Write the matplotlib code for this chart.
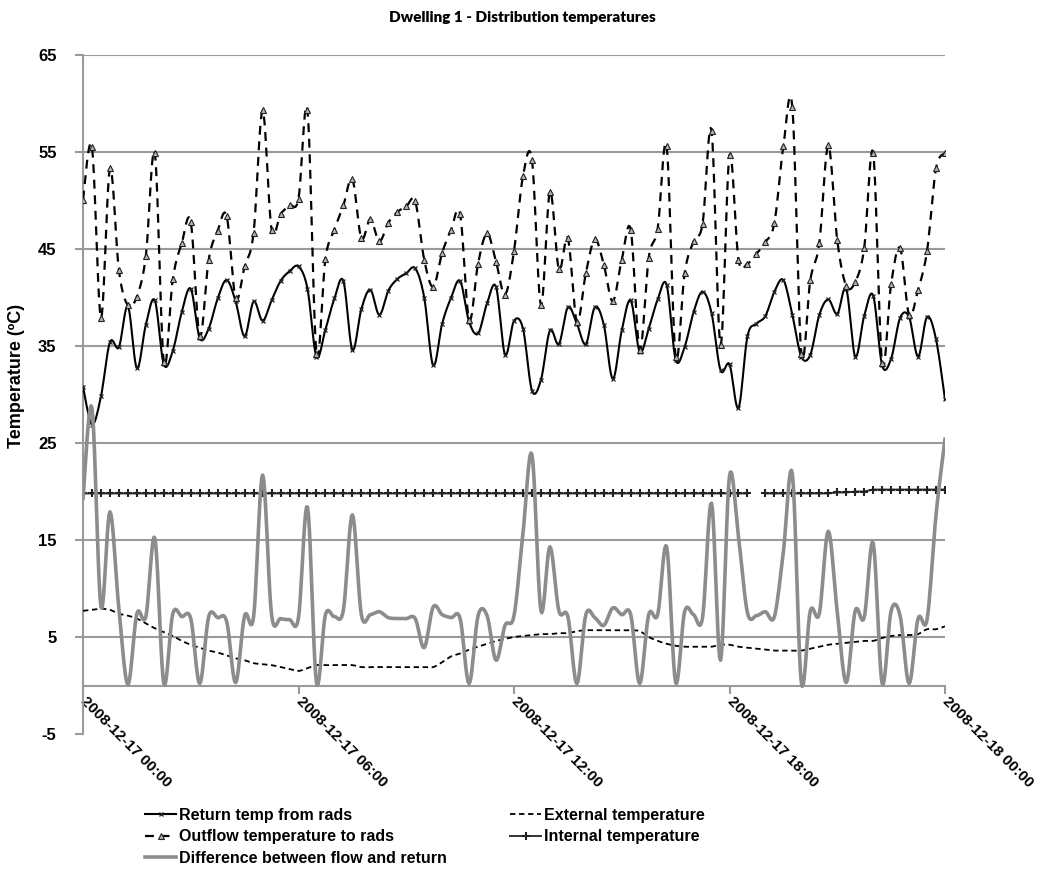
import numpy as np
import pandas as pd
import matplotlib
matplotlib.use("Agg")
import matplotlib.pyplot as plt
import matplotlib.dates as mdates

# 15 minute readings, 2008-12-17 00:00 .. 2008-12-18 00:00
times = pd.date_range("2008-12-17 00:00", "2008-12-18 00:00", freq="15min")

return_temp = [
    30.8, 26.9, 29.8, 35.4, 34.9, 39.1, 32.7, 37.2, 39.7, 33.1,
    34.5, 38.5, 40.9, 35.8, 36.8, 39.9, 41.8, 39.6, 36.0, 39.6,
    37.6, 39.7, 41.7, 42.7, 43.2, 40.9, 33.9, 36.7, 39.9, 41.7,
    34.6, 38.8, 40.8, 38.2, 40.7, 41.9, 42.5, 43.0, 40.0, 33.0,
    37.3, 40.0, 41.7, 37.5, 36.3, 39.4, 41.1, 34.1, 37.6, 36.8,
    30.4, 31.5, 36.6, 35.2, 39.0, 37.3, 35.2, 39.0, 37.2, 31.6,
    36.6, 39.7, 34.4, 36.8, 39.8, 41.3, 33.6, 34.9, 38.5, 40.6,
    38.4, 32.5, 33.1, 28.6, 36.0, 37.3, 38.1, 40.6, 41.8, 38.2,
    33.9, 34.1, 38.2, 39.8, 38.3, 40.9, 33.9, 38.1, 40.2, 33.0,
    33.7, 37.9, 38.0, 33.9, 38.0, 35.7, 29.5,
]

outflow_temp = [
    50.1, 55.5, 37.9, 53.3, 42.8, 39.2, 40.1, 44.3, 54.9, 33.3,
    41.9, 45.6, 47.8, 36.0, 43.9, 46.9, 48.4, 39.9, 43.2, 46.7,
    59.3, 47.0, 48.6, 49.5, 50.2, 59.3, 34.2, 44.0, 47.0, 49.5,
    52.2, 46.1, 48.1, 45.8, 47.7, 48.8, 49.4, 49.9, 43.9, 41.1,
    44.6, 47.0, 48.6, 37.7, 43.5, 46.6, 43.7, 40.3, 44.8, 52.5,
    54.2, 39.2, 50.9, 42.9, 46.1, 37.5, 42.5, 46.0, 43.4, 39.6,
    43.9, 47.0, 34.6, 44.1, 47.1, 55.6, 33.9, 42.5, 45.8, 47.6,
    57.2, 35.1, 54.7, 43.9, 43.5, 44.5, 45.7, 47.7, 55.6, 59.6,
    34.2, 41.8, 45.6, 55.7, 45.9, 41.2, 41.6, 45.1, 54.9, 33.2,
    41.4, 45.1, 38.2, 40.8, 44.8, 53.3, 54.9,
]

difference = [
    19.3, 28.6, 8.1, 17.9, 7.9, 0.1, 7.4, 7.1, 15.2, 0.2,
    7.4, 7.1, 6.9, 0.2, 7.1, 7.0, 6.6, 0.3, 7.2, 7.1,
    21.7, 7.3, 6.9, 6.8, 7.0, 18.4, 0.3, 7.3, 7.1, 7.8,
    17.6, 7.3, 7.3, 7.6, 7.0, 6.9, 6.9, 6.9, 3.9, 8.1,
    7.3, 7.0, 6.9, 0.2, 7.2, 7.2, 2.6, 6.2, 7.2, 15.7,
    23.8, 7.7, 14.3, 7.7, 7.1, 0.2, 7.3, 7.0, 6.2, 8.0,
    7.3, 7.3, 0.2, 7.3, 7.3, 14.3, 0.3, 7.6, 7.3, 7.0,
    18.8, 2.6, 21.6, 15.3, 7.5, 7.2, 7.6, 7.1, 13.8, 21.8,
    0.3, 7.7, 7.4, 15.9, 7.6, 0.3, 7.7, 7.0, 14.7, 0.2,
    7.7, 7.2, 0.2, 6.9, 6.8, 17.6, 25.4,
]

external_temp = [
    7.7, 7.8, 7.9, 7.8, 7.4, 7.2, 6.9, 6.4, 5.9, 5.5,
    5.1, 4.6, 4.2, 3.9, 3.6, 3.4, 3.1, 2.8, 2.6, 2.3,
    2.2, 2.1, 1.9, 1.7, 1.5, 1.8, 2.1, 2.1, 2.1, 2.1,
    2.1, 1.9, 1.9, 1.9, 1.9, 1.9, 1.9, 1.9, 1.9, 1.9,
    2.4, 3.0, 3.3, 3.7, 4.0, 4.3, 4.6, 4.8, 5.0, 5.1,
    5.2, 5.3, 5.3, 5.4, 5.4, 5.6, 5.7, 5.7, 5.7, 5.7,
    5.7, 5.7, 5.6, 5.0, 4.6, 4.3, 4.1, 4.0, 4.0, 4.0,
    4.0, 4.2, 4.2, 4.0, 3.9, 3.8, 3.7, 3.6, 3.6, 3.6,
    3.6, 3.8, 4.0, 4.2, 4.3, 4.4, 4.5, 4.6, 4.6, 4.9,
    5.1, 5.2, 5.2, 5.3, 5.8, 5.8, 6.1,
]

internal_temp = [
    19.8, 19.8, 19.8, 19.8, 19.8, 19.8, 19.8, 19.8, 19.8, 19.8,
    19.8, 19.8, 19.8, 19.8, 19.8, 19.8, 19.8, 19.8, 19.8, 19.8,
    19.8, 19.8, 19.8, 19.8, 19.8, 19.8, 19.8, 19.8, 19.8, 19.8,
    19.8, 19.8, 19.8, 19.8, 19.8, 19.8, 19.8, 19.8, 19.8, 19.8,
    19.8, 19.8, 19.8, 19.8, 19.8, 19.8, 19.8, 19.8, 19.8, 19.8,
    19.8, 19.8, 19.8, 19.8, 19.8, 19.8, 19.8, 19.8, 19.8, 19.8,
    19.8, 19.8, 19.8, 19.8, 19.8, 19.8, 19.8, 19.8, 19.8, 19.8,
    19.8, 19.8, 19.8, 19.8, 19.8, None, 19.8, 19.8, 19.8, 19.8,
    19.8, 19.8, 19.8, 19.8, 19.9, 19.9, 20.0, 20.0, 20.2, 20.2,
    20.2, 20.2, 20.2, 20.2, 20.2, 20.2, 20.2,
]

labels = ["Return temp from rads", "Outflow temperature to rads",
          "Difference between flow and return", "External temperature",
          "Internal temperature"]


def smooth(x, y, n=10):
    """Catmull-Rom curve through the points (like Excel's smoothed line)."""
    x = np.asarray(x, float)
    y = np.asarray(y, float)
    t = np.linspace(0, 1, n, endpoint=False)
    xs, ys = [], []
    last = len(y) - 1
    for k in range(last):
        i0, i3 = max(k - 1, 0), min(k + 2, last)
        for src, dst in ((x, xs), (y, ys)):
            p0, p1, p2, p3 = src[i0], src[k], src[k + 1], src[i3]
            dst.append(0.5 * ((2 * p1) + (-p0 + p2) * t
                              + (2 * p0 - 5 * p1 + 4 * p2 - p3) * t ** 2
                              + (-p0 + 3 * p1 - 3 * p2 + p3) * t ** 3))
    xs.append([x[-1]])
    ys.append([y[-1]])
    return np.concatenate(xs), np.concatenate(ys)


plt.rcParams['font.family'] = ['Liberation Sans', 'DejaVu Sans']
plt.rcParams['font.weight'] = 'bold'
plt.rcParams['axes.unicode_minus'] = False

fig = plt.figure(figsize=(10.41, 8.71), dpi=100)
ax = fig.add_axes([83 / 1041, 1 - 734 / 871, 862 / 1041, 679 / 871])

xnum = mdates.date2num(times)
grey = '#9a9a9a'

# return temp
sx, sy = smooth(xnum, return_temp)
l1, = ax.plot(sx, sy, color='black', lw=1.5, zorder=3)
m1, = ax.plot(xnum, return_temp, ls='none', marker='x', ms=3.5, mew=0.9,
              color='#222222', zorder=4)

# external temp
sx, sy = smooth(xnum, external_temp)
l4, = ax.plot(sx, sy, color='black', lw=1.3, ls=(0, (3, 2)), zorder=3)

# outflow temp
sx, sy = smooth(xnum, outflow_temp)
l2, = ax.plot(sx, sy, color='black', lw=1.6, ls=(0, (4, 3)), zorder=3)
m2, = ax.plot(xnum, outflow_temp, ls='none', marker='^', ms=4, mew=0.8,
              mfc='#b5b5b5', mec='#222222', zorder=4)

# internal temp
internal = np.array([np.nan if v is None else v for v in internal_temp])
l5, = ax.plot(xnum, internal, color='#333333', lw=1.4, marker='+', ms=6,
              mew=1.5, mec='#222222', zorder=3)

# difference
sx, sy = smooth(xnum, difference)
l3, = ax.plot(sx, sy, color='#8c8c8c', lw=2.6, zorder=5)

ax.set_ylim(-5, 65)
ax.set_yticks(np.arange(-5, 66, 10))
ax.set_xlim(times[0], times[-1])
ax.xaxis.set_major_locator(mdates.HourLocator(byhour=[0, 6, 12, 18]))
ax.xaxis.set_major_formatter(mdates.DateFormatter('%Y-%m-%d %H:%M'))

for g in np.arange(5, 66, 10):
    ax.axhline(g, color=grey, lw=1.5, zorder=1)

ax.spines['right'].set_visible(False)
ax.spines['top'].set_visible(False)
ax.spines['bottom'].set_position(('data', 0))
ax.spines['bottom'].set_color(grey)
ax.spines['bottom'].set_linewidth(1.5)
ax.spines['left'].set_color(grey)
ax.spines['left'].set_linewidth(1.5)
ax.tick_params(axis='both', colors=grey, labelcolor='black', length=6,
               width=1.5)
ax.tick_params(axis='x', labelsize=11)
ax.tick_params(axis='y', labelsize=12, pad=13)
for lab in ax.get_xticklabels():
    lab.set_rotation(-45)
    lab.set_rotation_mode('anchor')
    lab.set_ha('left')
    lab.set_va('center')
    lab.set_fontweight('bold')
for lab in ax.get_yticklabels():
    lab.set_fontweight('bold')

ax.set_ylabel('Temperature (ºC)', fontsize=13, fontweight='bold')
ax.yaxis.set_label_coords(-0.0675, 0.527)

fig.text(0.502, 1 - 17 / 871, 'Dwelling 1 - Distribution temperatures',
         ha='center', va='center', fontsize=11, fontweight='heavy',
         family=['Lato', 'DejaVu Sans'])

handles = [(l1, m1), (l2, m2), l3, l4, l5]
ax.legend(handles, labels, ncol=2, loc='upper left', frameon=False,
          bbox_to_anchor=(145 / 1041, 1 - 808 / 871),
          bbox_transform=fig.transFigure, handlelength=1.95,
          handletextpad=0.15, labelspacing=0.4, columnspacing=4.0,
          borderaxespad=0, borderpad=0, prop={'weight': 'bold', 'size': 11.5})

fig.savefig('out.png', dpi=100)
